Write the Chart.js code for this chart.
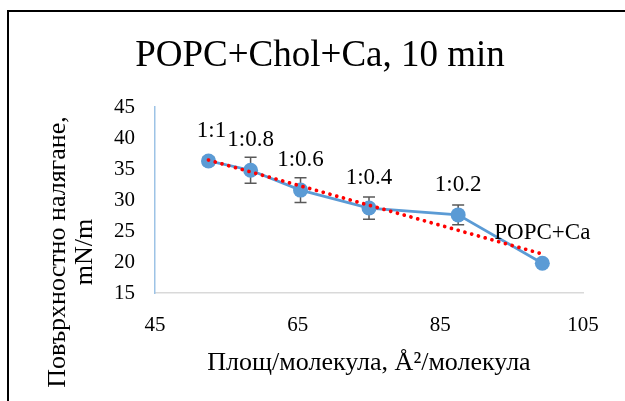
<!DOCTYPE html>
<html>
<head>
<meta charset="utf-8">
<script src="https://cdn.jsdelivr.net/npm/chart.js@4/dist/chart.umd.min.js"></script>
<style>
  html, body { margin: 0; padding: 0; background: #fff; }
  #wrap { width: 625px; height: 401px; position: relative; }
</style>
</head>
<body>
<div id="wrap"><canvas id="isotherm"></canvas></div>
<script>
// Surface pressure vs. area per molecule, POPC/Chol mixtures with Ca
const areaPerMolecule = [52.5, 58.4, 65.4, 75.0, 87.5, 99.3];
const surfacePressure = [36.3, 34.8, 31.6, 28.7, 27.6, 19.8];
const pressureError = [0.6, 2.1, 2.0, 1.8, 1.6, 0];
const ratioLabels = ['1:1', '1:0.8', '1:0.6', '1:0.4', '1:0.2', 'POPC+Ca'];

const xRange = [45, 105];
const xStep = 20;
const yRange = [15, 45];
const yStep = 5;

const chartTitle = 'POPC+Chol+Ca, 10 min';
const xTitle = 'Площ/молекула, Å²/молекула';
const yTitle = ['Повърхностно налягане,', 'mN/m'];

const FONT = '"Liberation Serif", "Times New Roman", serif';

// least squares line through the measured points
function linearFit(xs, ys) {
    const n = xs.length;
    const mx = xs.reduce((a, b) => a + b, 0) / n;
    const my = ys.reduce((a, b) => a + b, 0) / n;
    let sxy = 0, sxx = 0;
    for (let i = 0; i < n; i++) {
        sxy += (xs[i] - mx) * (ys[i] - my);
        sxx += (xs[i] - mx) * (xs[i] - mx);
    }
    const slope = sxy / sxx;
    return x => my + slope * (x - mx);
}

const fit = linearFit(areaPerMolecule, surfacePressure);
const xFirst = Math.min(...areaPerMolecule);
const xLast = Math.max(...areaPerMolecule);
const trendPoints = [{ x: xFirst, y: fit(xFirst) }, { x: xLast, y: fit(xLast) }];

const seriesPoints = areaPerMolecule.map((x, i) => ({ x: x, y: surfacePressure[i] }));

// frame, title and the two-line vertical axis title
const decorPlugin = {
    id: 'decor',
    beforeDraw(chart) {
        const ctx = chart.ctx;
        ctx.save();
        ctx.fillStyle = '#fff';
        ctx.fillRect(0, 0, chart.width, chart.height);
        ctx.restore();
    },
    afterDraw(chart) {
        const ctx = chart.ctx;
        ctx.save();
        ctx.strokeStyle = '#000';
        ctx.lineWidth = 2;
        ctx.beginPath();
        ctx.moveTo(8, chart.height);
        ctx.lineTo(8, 11);
        ctx.lineTo(chart.width, 11);
        ctx.stroke();

        ctx.fillStyle = '#000';
        ctx.textAlign = 'center';
        ctx.textBaseline = 'middle';
        ctx.font = '37px ' + FONT;
        ctx.fillText(chartTitle, 320, 56);

        ctx.translate(58, 252);
        ctx.rotate(-Math.PI / 2);
        ctx.font = '26px ' + FONT;
        ctx.fillText(yTitle[0], 0, 0);
        ctx.fillText(yTitle[1], 0, 27);
        ctx.restore();
    }
};

// vertical error bars, drawn under the markers
const errorBarPlugin = {
    id: 'errorBars',
    beforeDatasetsDraw(chart) {
        const ctx = chart.ctx;
        const xs = chart.scales.x, ys = chart.scales.y;
        ctx.save();
        ctx.strokeStyle = '#595959';
        ctx.lineWidth = 1.5;
        areaPerMolecule.forEach((x, i) => {
            const err = pressureError[i];
            if (!err) return;
            const px = xs.getPixelForValue(x);
            const top = ys.getPixelForValue(surfacePressure[i] + err);
            const bot = ys.getPixelForValue(surfacePressure[i] - err);
            ctx.beginPath();
            ctx.moveTo(px, top); ctx.lineTo(px, bot);
            ctx.moveTo(px - 6, top); ctx.lineTo(px + 6, top);
            ctx.moveTo(px - 6, bot); ctx.lineTo(px + 6, bot);
            ctx.stroke();
        });
        ctx.restore();
    }
};

// ratio labels above each point
const pointLabelPlugin = {
    id: 'pointLabels',
    afterDatasetsDraw(chart) {
        const ctx = chart.ctx;
        const meta = chart.getDatasetMeta(0);
        ctx.save();
        ctx.fillStyle = '#000';
        ctx.font = '23px ' + FONT;
        ctx.textAlign = 'center';
        ctx.textBaseline = 'middle';
        meta.data.forEach((pt, i) => {
            ctx.fillText(ratioLabels[i], pt.x + (i === 0 ? 3 : 0), pt.y - 30);
        });
        ctx.restore();
    }
};

new Chart(document.getElementById('isotherm'), {
    type: 'scatter',
    data: {
        datasets: [
            {
                data: seriesPoints,
                showLine: true,
                borderColor: '#5B9BD5',
                backgroundColor: '#5B9BD5',
                borderWidth: 2.75,
                pointRadius: 7.5,
                pointBorderWidth: 0,
                order: 2
            },
            {
                data: trendPoints,
                showLine: true,
                borderColor: '#FF0000',
                borderWidth: 3.75,
                borderDash: [0.01, 7],
                borderCapStyle: 'round',
                pointRadius: 0,
                order: 1
            }
        ]
    },
    options: {
        responsive: true,
        maintainAspectRatio: false,
        animation: false,
        layout: { padding: { top: 107, right: 42, left: 0, bottom: 0 } },
        plugins: {
            legend: { display: false },
            title: { display: false },
            tooltip: { enabled: false }
        },
        scales: {
            x: {
                type: 'linear',
                min: xRange[0],
                max: xRange[1],
                afterFit: s => { s.height = 108; },
                ticks: {
                    stepSize: xStep,
                    color: '#000',
                    padding: 20,
                    font: { family: FONT, size: 21 }
                },
                grid: { display: false, drawTicks: false },
                border: { display: true, color: '#D9D9D9', width: 1.5 },
                title: {
                    display: true,
                    text: xTitle,
                    color: '#000',
                    padding: { top: 0, bottom: 22 },
                    font: { family: FONT, size: 26 }
                }
            },
            y: {
                type: 'linear',
                min: yRange[0],
                max: yRange[1],
                afterFit: s => { s.width = 155; },
                ticks: {
                    stepSize: yStep,
                    color: '#000',
                    padding: 20,
                    font: { family: FONT, size: 21 }
                },
                grid: { display: false, drawTicks: false },
                border: { display: true, color: '#9DC3E6', width: 1.5 }
            }
        }
    },
    plugins: [decorPlugin, errorBarPlugin, pointLabelPlugin]
});
</script>
</body>
</html>
